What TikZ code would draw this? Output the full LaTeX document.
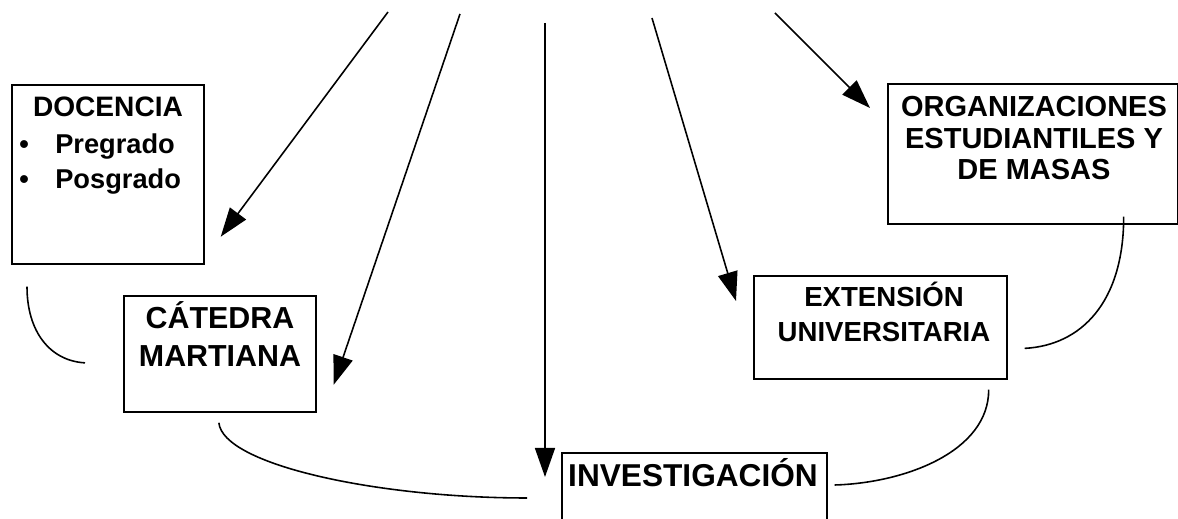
\documentclass[tikz,border=0pt]{standalone}
\usepackage{fontspec}
\setmainfont{Liberation Sans}
\usetikzlibrary{arrows.meta,positioning}
\tikzset{
  caja/.style={draw, line width=1pt, anchor=north west, inner sep=0pt},
  rotulo/.style={font=\bfseries\fontsize{#1}{#1}\selectfont, align=center, anchor=north, inner sep=0pt},
  flecha/.style={line width=0.9pt, -{Triangle[length=0.58cm,width=0.4cm]}},
  enlace/.style={line width=0.9pt}
}

\begin{document}
\begin{tikzpicture}[x=0.02cm,y=-0.02cm]
      \clip (0,0) rectangle (1178,519);

      % cajas
      \node[caja, minimum width=3.84cm, minimum height=3.58cm] (DOC) at (11,84) {};
      \node[caja, minimum width=3.84cm, minimum height=2.32cm] (CAT) at (123,295) {};
      \node[caja, minimum width=5.80cm, minimum height=2.80cm] (ORG) at (887,83) {};
      \node[caja, minimum width=5.06cm, minimum height=2.06cm] (EXT) at (753,275) {};
      \node[caja, minimum width=5.30cm, minimum height=2.00cm] (INV) at (561,452) {};

      % textos
      \node[rotulo=16pt] (DOCt) at (108,97) {DOCENCIA};
      \node[font=\bfseries\fontsize{15.5}{20.4}\selectfont, align=left, anchor=north west, inner sep=0pt]
        (DOCl) at (19,133) {\makebox[0.72cm][l]{•}Pregrado\\\makebox[0.72cm][l]{•}Posgrado};
      \node[font=\bfseries\fontsize{17.3}{21.5}\selectfont, align=center, anchor=north, inner sep=0pt]
        (CATt) at (220,301) {CÁTEDRA\\MARTIANA};
      \node[font=\bfseries\fontsize{16.5}{18}\selectfont, align=center, anchor=north, inner sep=0pt]
        (ORGt) at (1034,96) {ORGANIZACIONES\\ESTUDIANTILES Y\\DE MASAS};
      \node[font=\bfseries\fontsize{15.7}{19.8}\selectfont, align=center, anchor=north, inner sep=0pt]
        (EXTt) at (884,282) {EXTENSIÓN\\UNIVERSITARIA};
      \node[rotulo=18pt] (INVt) at (693,458) {INVESTIGACIÓN};

      % flechas desde arriba
      \coordinate (s1) at (388,12);  \coordinate (t1) at ([shift={(16,-28)}]DOC.south east);
      \coordinate (s2) at (460,14);  \coordinate (t2) at ([shift={(17,-28)}]CAT.south east);
      \coordinate (s3) at (545,23);  \coordinate (t3) at ([shift={(-16,25)}]INV.north west);
      \coordinate (s4) at (652,18);  \coordinate (t4) at ([shift={(-17,26)}]EXT.north west);
      \coordinate (s5) at (775,13);  \coordinate (t5) at ([shift={(-17,25)}]ORG.north west);
      \foreach \i in {1,...,5}
        \draw[flecha] (s\i) -- (t\i);

      % enlaces curvos
      \coordinate (e1a) at ([shift={(16,22)}]DOC.south west);
      \coordinate (e1b) at ([shift={(-38,9)}]CAT.west);
      \coordinate (e2a) at ([shift={(-1,10)}]CAT.south);
      \coordinate (e2b) at ([shift={(-34,46)}]INV.north west);
      \coordinate (e3a) at ([shift={(-19,10)}]EXT.south east);
      \coordinate (e3b) at ([shift={(7,33)}]INV.north east);
      \coordinate (e4a) at ([shift={(-55,-8)}]ORG.south east);
      \coordinate (e4b) at ([shift={(17,21)}]EXT.east);
      \draw[enlace] (e1a) .. controls +(0,45) and +(-35,-2) .. (e1b);
      \draw[enlace] (e2a) .. controls +(4,42) and +(-150,0) .. (e2b);
      \draw[enlace] (e3a) .. controls +(0,62) and +(70,-2) .. (e3b);
      \draw[enlace] (e4a) .. controls +(0,85) and +(57,-3) .. (e4b);
\end{tikzpicture}
\end{document}
